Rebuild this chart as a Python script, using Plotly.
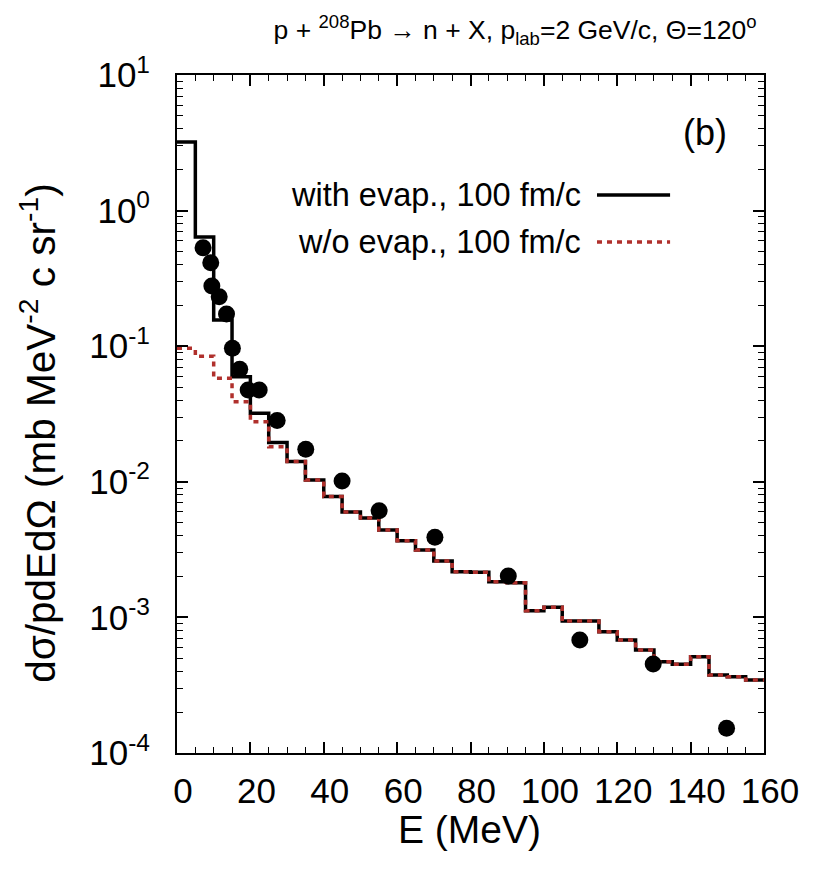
import plotly.graph_objects as go

# ---- data ----
bin_left = [0, 5, 10, 15, 20, 25, 30, 35, 40, 45, 50, 55, 60, 65, 70, 75,
            80, 85, 90, 95, 100, 105, 110, 115, 120, 125, 130, 135, 140, 145, 150, 155]
bin_right_end = 160

with_evap = [3.2, 0.64, 0.156, 0.0596, 0.032, 0.0195, 0.0141, 0.0103, 0.0078, 0.0060,
             0.0054, 0.00442, 0.00368, 0.00314, 0.00261, 0.00217, 0.00215, 0.00183,
             0.00180, 0.00112, 0.00119, 0.00094, 0.00094, 0.000785, 0.00068, 0.000575,
             0.000471, 0.000451, 0.000513, 0.000376, 0.000365, 0.000345]

wo_evap = [0.0966, 0.0844, 0.058, 0.039, 0.0277, 0.01815, 0.0141, 0.0103, 0.0078, 0.0060,
           0.0054, 0.00442, 0.00368, 0.00314, 0.00261, 0.00217, 0.00215, 0.00183,
           0.00180, 0.00112, 0.00119, 0.00094, 0.00094, 0.000785, 0.00068, 0.000575,
           0.000471, 0.000451, 0.000513, 0.000376, 0.000365, 0.000345]

exp_E = [7.1, 9.2, 9.5, 11.5, 13.5, 15.1, 17.1, 19.4, 22.4, 27.3, 35.1, 45.0, 55.1,
         70.3, 90.3, 109.8, 129.8, 149.8]
exp_val = [0.532, 0.413, 0.278, 0.232, 0.1725, 0.0967, 0.0676, 0.0475, 0.0475, 0.0283,
           0.0174, 0.01015, 0.00612, 0.0039, 0.00202, 0.00068, 0.000453, 0.000152]

x_tickvals = [0, 20, 40, 60, 80, 100, 120, 140, 160]
y_tickvals = [1e1, 1e0, 1e-1, 1e-2, 1e-3, 1e-4]
y_ticktext = ["10<sup>1</sup>", "10<sup>0</sup>", "10<sup>-1</sup>", "10<sup>-2</sup>",
              "10<sup>-3</sup>", "10<sup>-4</sup>"]

names = ["with evap., 100 fm/c", "w/o evap., 100 fm/c"]
title_text = "p + <sup>208</sup>Pb \u2192 n + X, p<sub>lab</sub>=2 GeV/c, \u0398=120<sup>o</sup>"
ytitle = "d\u03c3/pdEd\u03a9 (mb MeV<sup>-2</sup> c sr<sup>-1</sup>)"
xtitle = "E (MeV)"

FONT = "Liberation Sans, Arial, sans-serif"
BLACK = "#000000"
RED = "#b0302c"
RED_DASH = "5px,5px"

fig = go.Figure()

fig.add_trace(go.Scatter(
    x=bin_left + [bin_right_end], y=with_evap + [with_evap[-1]],
    mode="lines", line=dict(color=BLACK, width=3.5, shape="hv"),
    name=names[0], showlegend=False))

fig.add_trace(go.Scatter(
    x=bin_left + [bin_right_end], y=wo_evap + [wo_evap[-1]],
    mode="lines", line=dict(color=RED, width=3.5, dash=RED_DASH, shape="hv"),
    name=names[1], showlegend=False))

fig.add_trace(go.Scatter(
    x=exp_E, y=exp_val, mode="markers",
    marker=dict(color=BLACK, size=17, symbol="circle"),
    showlegend=False))

# manual gnuplot-style legend (text right, sample on the right)
leg_y = [0.823, 0.7537]
for name, yy, col, dash in [(names[0], leg_y[0], BLACK, "solid"), (names[1], leg_y[1], RED, RED_DASH)]:
    fig.add_annotation(x=0.692, y=yy, xref="paper", yref="paper", text=name,
                       showarrow=False, xanchor="right", yanchor="middle",
                       font=dict(family=FONT, size=32.5, color="#000"))
    fig.add_shape(type="line", xref="paper", yref="paper", x0=0.7155, x1=0.840, y0=yy, y1=yy,
                  line=dict(color=col, width=3.5, dash=dash))

fig.add_annotation(x=0.8995, y=0.9145, xref="paper", yref="paper", text="(b)",
                   showarrow=False, xanchor="center", yanchor="middle",
                   font=dict(family=FONT, size=36, color="#000"))

fig.add_annotation(x=-0.237, y=0.472, xref="paper", yref="paper", text=ytitle,
                   showarrow=False, textangle=-90, xanchor="center", yanchor="middle",
                   font=dict(family=FONT, size=40.5, color="#000"))
fig.add_annotation(x=0.499, y=-0.113, xref="paper", yref="paper", text=xtitle,
                   showarrow=False, xanchor="center", yanchor="middle",
                   font=dict(family=FONT, size=39, color="#000"))

fig.update_layout(
    width=817, height=870,
    margin=dict(l=169, r=61, t=67, b=125, autoexpand=False),
    paper_bgcolor="white", plot_bgcolor="white",
    font=dict(family=FONT, color="#000"),
    title=dict(text=title_text, x=0.6206, y=0.9747, xanchor="center", yanchor="middle",
               font=dict(family=FONT, size=26.5, color="#000")),
    showlegend=False,
)

fig.update_xaxes(
    range=[0, 160], tickvals=x_tickvals, ticks="inside", ticklen=11, tickwidth=1.5,
    tickcolor="#000", showline=True, linewidth=2, linecolor="#000", mirror="allticks",
    showgrid=False, zeroline=False, ticklabelstandoff=6, ticklabelshift=6,
    automargin=False,
    tickfont=dict(family=FONT, size=35, color="#000"),
    minor=dict(dtick=5, ticks="inside", ticklen=6, tickwidth=1.2, tickcolor="#000", showgrid=False),
)
fig.update_yaxes(
    type="log", range=[-4, 1], tickvals=y_tickvals, ticktext=y_ticktext,
    ticks="inside", ticklen=11, tickwidth=1.5, tickcolor="#000",
    showline=True, linewidth=2, linecolor="#000", mirror="allticks",
    showgrid=False, zeroline=False, ticklabelstandoff=18, automargin=False,
    tickfont=dict(family=FONT, size=35, color="#000"),
    minor=dict(dtick="D1", ticks="inside", ticklen=6, tickwidth=1.2, tickcolor="#000", showgrid=False),
)

fig.write_html("out.html")
